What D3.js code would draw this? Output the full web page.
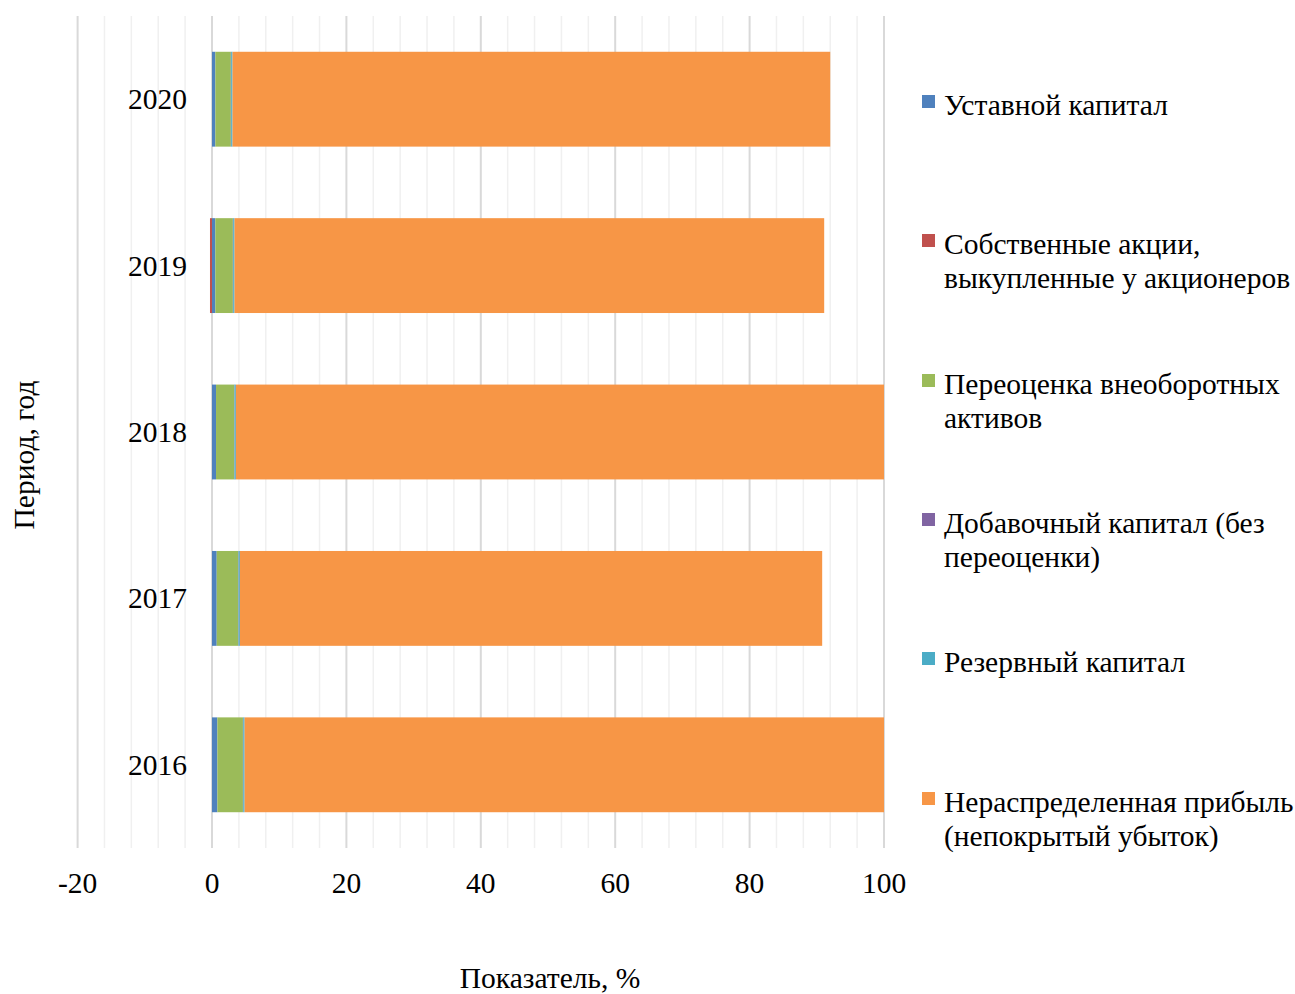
<!DOCTYPE html>
<html>
<head>
<meta charset="utf-8">
<script src="https://cdn.jsdelivr.net/npm/d3@7"></script>
<style>
  html, body { margin: 0; padding: 0; background: #fff; }
  svg { display: block; font-family: "Liberation Serif", "Times New Roman", serif; }
</style>
</head>
<body>
<svg id="chart" width="1295" height="994"></svg>
<script>
// Equity structure by year, % of total
const years = ["2020", "2019", "2018", "2017", "2016"];
const seriesNames = [
  "Уставной капитал",
  "Собственные акции, выкупленные у акционеров",
  "Переоценка внеоборотных активов",
  "Добавочный капитал (без переоценки)",
  "Резервный капитал",
  "Нераспределенная прибыль (непокрытый убыток)"
];
const legendLines = [
  ["Уставной капитал"],
  ["Собственные акции,", "выкупленные у акционеров"],
  ["Переоценка внеоборотных", "активов"],
  ["Добавочный капитал (без", "переоценки)"],
  ["Резервный капитал"],
  ["Нераспределенная прибыль", "(непокрытый убыток)"]
];
const ustavnoy   = [0.5, 0.5, 0.6, 0.7, 0.8];
const sobstv     = [0, -0.3, 0, 0, 0];
const pereocenka = [2.3, 2.6, 2.7, 3.2, 3.8];
const dobavochny = [0.05, 0.05, 0.05, 0.05, 0.05];
const rezervny   = [0.2, 0.2, 0.2, 0.2, 0.2];
const neraspr    = [88.95, 87.75, 96.45, 86.65, 95.15];
const xTicks = [-20, 0, 20, 40, 60, 80, 100];
const colors = ["#4F81BD", "#C0504D", "#9BBB59", "#8064A2", "#4BACC6", "#F79646"];

(function () {
  const FS = 29.5;
  const cols = [ustavnoy, sobstv, pereocenka, dobavochny, rezervny, neraspr];
  const rows = years.map((yr, i) => {
    const r = { year: yr };
    seriesNames.forEach((s, k) => { r[s] = cols[k][i]; });
    return r;
  });

  const svg = d3.select("#chart");
  const plotLeft = 77.6, plotRight = 884, plotTop = 16, plotBottom = 848;

  const x = d3.scaleLinear().domain([-20, 100]).range([plotLeft, plotRight]);
  const y = d3.scaleBand().domain(years).range([plotTop, plotBottom])
    .paddingInner(0.43).paddingOuter(0.215);

  // Gridlines: minor every 4, major every 20
  const minor = d3.range(-20, 100.001, 4);
  svg.append("g").selectAll("line").data(minor).join("line")
    .attr("x1", d => x(d)).attr("x2", d => x(d))
    .attr("y1", plotTop).attr("y2", plotBottom)
    .attr("stroke", d => (d % 20 === 0) ? "#d9d9d9" : "#f0f0f0")
    .attr("stroke-width", d => (d % 20 === 0) ? 2 : 1.5);

  const stack = d3.stack().keys(seriesNames).offset(d3.stackOffsetDiverging);
  const stacked = stack(rows);

  svg.append("g").selectAll("g").data(stacked).join("g")
    .attr("fill", (d, i) => colors[i])
    .selectAll("rect").data(d => d).join("rect")
    .attr("x", d => x(Math.min(d[0], d[1])))
    .attr("width", d => Math.abs(x(d[1]) - x(d[0])))
    .attr("y", d => y(d.data.year))
    .attr("height", y.bandwidth());

  // Axis labels
  svg.append("g").selectAll("text").data(xTicks).join("text")
    .attr("x", d => x(d)).attr("y", 893)
    .attr("text-anchor", "middle")
    .attr("font-size", FS).attr("fill", "#000")
    .text(d => d);

  svg.append("g").selectAll("text").data(years).join("text")
    .attr("x", 187).attr("y", d => y(d) + y.bandwidth() / 2 + 10)
    .attr("text-anchor", "end")
    .attr("font-size", FS).attr("fill", "#000")
    .text(d => d);

  svg.append("text")
    .attr("transform", "translate(34,455) rotate(-90)")
    .attr("text-anchor", "middle")
    .attr("font-size", FS)
    .text("Период, год");

  svg.append("text")
    .attr("x", 550).attr("y", 988)
    .attr("text-anchor", "middle")
    .attr("font-size", FS)
    .text("Показатель, %");

  // Legend
  const legendY = [105, 244, 384, 523, 662, 802];
  const lg = svg.append("g").selectAll("g").data(legendLines).join("g")
    .attr("transform", (d, i) => `translate(922,${legendY[i]})`);
  lg.append("rect").attr("x", 0).attr("y", -10).attr("width", 13).attr("height", 13)
    .attr("fill", (d, i) => colors[i]);
  lg.append("text").attr("font-size", FS).attr("fill", "#000")
    .selectAll("tspan").data(d => d).join("tspan")
    .attr("x", 22).attr("y", (d, j) => 10 + j * 34)
    .text(d => d);
})();
</script>
</body>
</html>
